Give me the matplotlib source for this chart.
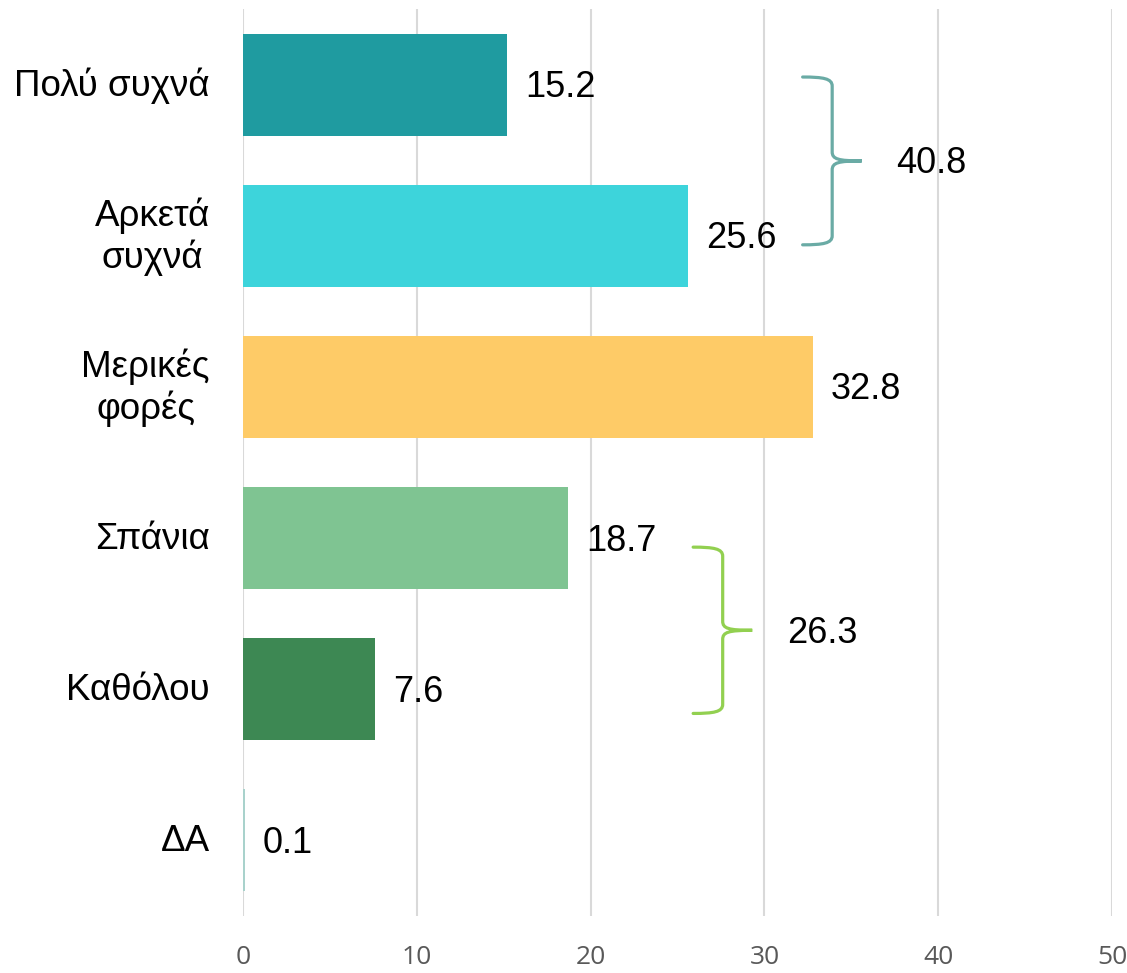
import numpy as np
import matplotlib.pyplot as plt
from matplotlib.path import Path
from matplotlib.patches import PathPatch

# Datos
categories = ["Πολύ συχνά", "Αρκετά\nσυχνά", "Μερικές\nφορές", "Σπάνια", "Καθόλου", "ΔΑ"]
values = [15.2, 25.6, 32.8, 18.7, 7.6, 0.1]
colors = ["#1F9BA0", "#3DD4DB", "#FECB67", "#7FC492", "#3D8853", "#A9D2CC"]
xticks = [0, 10, 20, 30, 40, 50]

# Agrupaciones con llave: (indices de barras, color)
groups = [([0, 1], "#6AABA5"), ([3, 4], "#92D050")]
# posición x (inicio) y extremos verticales de cada llave
brace_x = [32.2, 25.9]
brace_y = [(-0.05, 1.06), (3.06, 4.16)]

plt.rcParams['font.family'] = ['Liberation Sans', 'DejaVu Sans']

fig = plt.figure(figsize=(11.27, 9.73), dpi=100)
ax = fig.add_axes([243 / 1127, 57 / 973, 869 / 1127, 907 / 973])

y = np.arange(len(categories))
ax.barh(y, values, height=0.675, color=colors, zorder=3)

ax.set_xlim(0, 50)
ax.set_ylim(len(categories) - 0.5, -0.5)
ax.set_xticks(xticks)
ax.set_xticklabels([str(t) for t in xticks], fontsize=19, color='#595959',
                   family=['Open Sans', 'DejaVu Sans'])
ax.tick_params(axis='x', length=0, pad=21)
ax.set_yticks([])
ax.grid(axis='x', color='#D9D9D9', linewidth=1.5, zorder=0)
for s in ax.spines.values():
    s.set_visible(False)

# Etiquetas de categoría
for yi, cat in zip(y, categories):
    ax.annotate(cat, xy=(0, yi), xytext=(-33, -1), textcoords='offset pixels',
                ha='right', va='center', multialignment='center',
                fontsize=26.5, linespacing=1.2, color='black')

# Valores
for yi, v in zip(y, values):
    ax.annotate(f"{v:.1f}", xy=(v, yi), xytext=(18, -3), textcoords='offset pixels',
                ha='left', va='center', fontsize=26, color='black')


def brace(ax, x0, x1, x2, ytop, ybot, color):
    r = 0.06
    ymid = (ytop + ybot) / 2
    verts = [
        (x0, ytop), (x0 + (x1 - x0) * 0.7, ytop), (x1, ytop + 0.01), (x1, ytop + r),
        (x1, ymid - r),
        (x1, ymid - r * 0.2), (x1 + (x2 - x1) * 0.2, ymid), (x2, ymid),
        (x1 + (x2 - x1) * 0.2, ymid), (x1, ymid + r * 0.2), (x1, ymid + r),
        (x1, ybot - r),
        (x1, ybot - 0.01), (x0 + (x1 - x0) * 0.7, ybot), (x0, ybot),
    ]
    codes = [Path.MOVETO, Path.CURVE4, Path.CURVE4, Path.CURVE4,
             Path.LINETO,
             Path.CURVE4, Path.CURVE4, Path.CURVE4,
             Path.CURVE4, Path.CURVE4, Path.CURVE4,
             Path.LINETO,
             Path.CURVE4, Path.CURVE4, Path.CURVE4]
    ax.add_patch(PathPatch(Path(verts, codes), fill=False, edgecolor=color,
                           linewidth=2.3, capstyle='round', zorder=4))


for (idx, col), x0, (ytop, ybot) in zip(groups, brace_x, brace_y):
    brace(ax, x0, x0 + 1.7, x0 + 3.4, ytop, ybot, col)
    total = sum(values[i] for i in idx)
    ax.text(x0 + 5.4, (ytop + ybot) / 2 + 0.02, f"{total:.1f}", ha='left', va='center',
            fontsize=26, color='black', zorder=5)

plt.savefig('out.png', dpi=100)
